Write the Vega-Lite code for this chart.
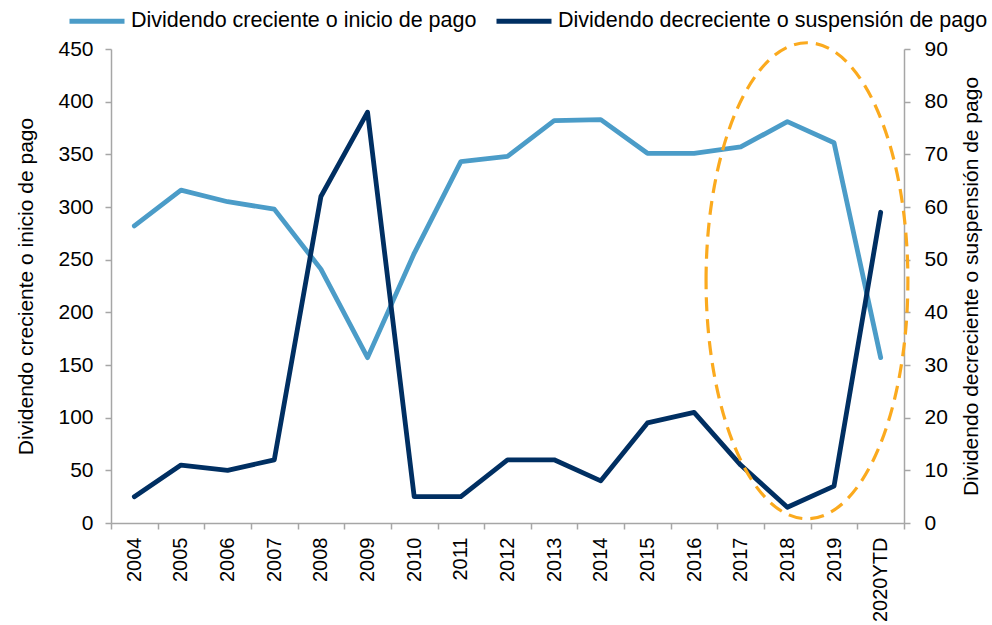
{
  "$schema": "https://vega.github.io/schema/vega-lite/v6.json",
  "width": 793,
  "height": 474,
  "autosize": {"type": "none"},
  "padding": {"left": 111, "top": 49, "right": 88, "bottom": 102},
  "background": "white",
  "config": {
    "font": "Liberation Sans",
    "view": {"stroke": null},
    "axis": {
      "labelFont": "Liberation Sans",
      "titleFont": "Liberation Sans",
      "labelFontSize": 21,
      "titleFontSize": 21,
      "titleFontWeight": "normal",
      "labelColor": "#000000",
      "titleColor": "#000000",
      "domainColor": "#A6A6A6",
      "domainWidth": 1.5,
      "tickColor": "#A6A6A6",
      "tickWidth": 1.5,
      "tickSize": 6,
      "grid": false
    },
    "legend": {
      "labelFont": "Liberation Sans",
      "labelFontSize": 21.5,
      "labelColor": "#000000",
      "symbolType": "stroke",
      "symbolSize": 3025,
      "symbolStrokeWidth": 5,
      "labelOffset": 4,
      "columnPadding": 9,
      "labelLimit": 700
    }
  },
  "data": {
    "values": [
      {"year": "2004", "creciente": 282, "decreciente": 5},
      {"year": "2005", "creciente": 316, "decreciente": 11},
      {"year": "2006", "creciente": 305, "decreciente": 10},
      {"year": "2007", "creciente": 298, "decreciente": 12},
      {"year": "2008", "creciente": 241, "decreciente": 62},
      {"year": "2009", "creciente": 157, "decreciente": 78},
      {"year": "2010", "creciente": 256, "decreciente": 5},
      {"year": "2011", "creciente": 343, "decreciente": 5},
      {"year": "2012", "creciente": 348, "decreciente": 12},
      {"year": "2013", "creciente": 382, "decreciente": 12},
      {"year": "2014", "creciente": 383, "decreciente": 8},
      {"year": "2015", "creciente": 351, "decreciente": 19},
      {"year": "2016", "creciente": 351, "decreciente": 21},
      {"year": "2017", "creciente": 357, "decreciente": 11},
      {"year": "2018", "creciente": 381, "decreciente": 3},
      {"year": "2019", "creciente": 361, "decreciente": 7},
      {"year": "2020YTD", "creciente": 157, "decreciente": 59}
    ]
  },
  "layer": [
    {
      "mark": {"type": "line", "strokeWidth": 4.8, "strokeCap": "round", "strokeJoin": "round"},
      "encoding": {
        "x": {
          "field": "year",
          "type": "ordinal",
          "sort": null,
          "bandPosition": 0.5,
          "scale": {"type": "band", "paddingInner": 0, "paddingOuter": 0},
          "axis": {"title": null, "labelAngle": -90, "tickBand": "extent", "labelPadding": 8, "labelFontSize": 20}
        },
        "y": {
          "field": "creciente",
          "type": "quantitative",
          "scale": {"domain": [0, 450]},
          "axis": {
            "orient": "left",
            "values": [0, 50, 100, 150, 200, 250, 300, 350, 400, 450],
            "title": "Dividendo creciente o inicio de pago",
            "labelPadding": 12,
            "titlePadding": 21
          }
        },
        "color": {
          "datum": "Dividendo creciente o inicio de pago",
          "type": "nominal",
          "scale": {
            "domain": ["Dividendo creciente o inicio de pago", "Dividendo decreciente o suspensión de pago"],
            "range": ["#4B9CC8", "#002F62"]
          },
          "legend": {
            "orient": "none",
            "direction": "horizontal",
            "legendX": -44,
            "legendY": -58,
            "title": null
          }
        }
      }
    },
    {
      "mark": {"type": "line", "strokeWidth": 4.8, "strokeCap": "round", "strokeJoin": "round"},
      "encoding": {
        "x": {"field": "year", "type": "ordinal", "sort": null, "bandPosition": 0.5},
        "y": {
          "field": "decreciente",
          "type": "quantitative",
          "scale": {"domain": [0, 90]},
          "axis": {
            "orient": "right",
            "values": [0, 10, 20, 30, 40, 50, 60, 70, 80, 90],
            "title": "Dividendo decreciente o suspensión de pago",
            "titleAngle": 270,
            "labelPadding": 14,
            "titlePadding": 34
          }
        },
        "color": {"datum": "Dividendo decreciente o suspensión de pago", "type": "nominal"}
      }
    },
    {
      "data": {"values": [{"note": "2018-2020YTD"}]},
      "mark": {
        "type": "point",
        "shape": "M -0.424 0 A 0.424 1 0 1 1 0.424 0 A 0.424 1 0 1 1 -0.424 0 Z",
        "size": 226576,
        "filled": false,
        "stroke": "#FBAA1E",
        "strokeWidth": 3.2,
        "strokeDash": [14, 8],
        "opacity": 1
      },
      "encoding": {
        "x": {"datum": "2018", "type": "ordinal", "bandPosition": 0.92},
        "y": {"datum": 230, "type": "quantitative", "scale": {"domain": [0, 450]}, "axis": null}
      }
    }
  ],
  "resolve": {"scale": {"y": "independent"}}
}
